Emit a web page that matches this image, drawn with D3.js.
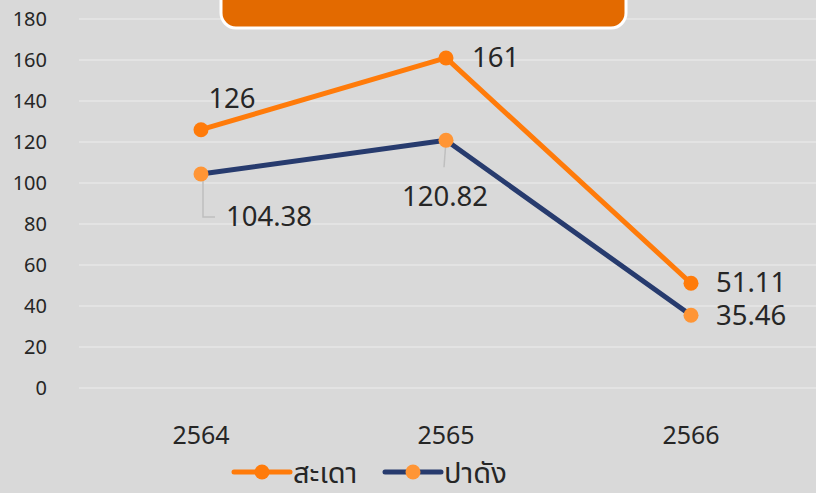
<!DOCTYPE html>
<html>
<head>
<meta charset="utf-8">
<script src="https://cdn.jsdelivr.net/npm/d3@7"></script>
<style>
  html, body { margin: 0; padding: 0; background: #d9d9d9; }
  svg { display: block; }
  text { font-family: "Noto Sans", "Noto Sans Thai", "Open Sans", sans-serif; fill: #262626; }
</style>
</head>
<body>
<svg id="chart" width="816" height="493"></svg>
<script>
// data
const years = ["2564", "2565", "2566"];
const sadaoValues = [126, 161, 51.11];
const padangValues = [104.38, 120.82, 35.46];
const seriesNames = ["สะเดา", "ปาดัง"];
const yTicks = [0, 20, 40, 60, 80, 100, 120, 140, 160, 180];

const svg = d3.select("#chart");
const W = 816, H = 493;

svg.append("rect").attr("width", W).attr("height", H).attr("fill", "#d9d9d9");

// scales
const x = d3.scalePoint().domain(years).range([78.5, 813.5]).padding(0.5);
const y = d3.scaleLinear().domain([0, 180]).range([388, 19]);

// gridlines
svg.append("g")
  .selectAll("line")
  .data(yTicks)
  .join("line")
    .attr("x1", 79)
    .attr("x2", W)
    .attr("y1", d => y(d))
    .attr("y2", d => y(d))
    .attr("stroke", "#e6e6e6")
    .attr("stroke-width", 1.5);

// y axis labels
svg.append("g")
  .selectAll("text")
  .data(yTicks)
  .join("text")
    .attr("x", 47)
    .attr("y", d => y(d))
    .attr("dy", "0.35em")
    .attr("text-anchor", "end")
    .attr("font-size", "20px")
    .text(d => d);

// x axis labels
svg.append("g")
  .selectAll("text")
  .data(years)
  .join("text")
    .attr("x", d => x(d))
    .attr("y", 444)
    .attr("text-anchor", "middle")
    .attr("font-size", "25px")
    .text(d => d);

const series = [
  {name: seriesNames[0], values: sadaoValues, line: "#ff7b0a", dot: "#ff7b0a"},
  {name: seriesNames[1], values: padangValues, line: "#273b6e", dot: "#ff9535"}
];

const lineGen = d3.line()
  .x((d, i) => x(years[i]))
  .y(d => y(d));

// leader lines for two labels
const leaders = svg.append("g").attr("stroke", "#bfbfbf").attr("stroke-width", 1.5).attr("fill", "none");
leaders.append("path")
  .attr("d", `M${x(years[0]) + 2},${y(padangValues[0])} L${x(years[0]) + 2},${y(padangValues[0]) + 43} L${x(years[0]) + 14},${y(padangValues[0]) + 43}`);
leaders.append("path")
  .attr("d", `M${x(years[1])},${y(padangValues[1])} L${x(years[1]) - 2},${y(padangValues[1]) + 27}`);

series.slice().reverse().forEach(s => {
  svg.append("path")
    .datum(s.values)
    .attr("fill", "none")
    .attr("stroke", s.line)
    .attr("stroke-width", 5)
    .attr("stroke-linejoin", "round")
    .attr("d", lineGen);
});
series.forEach(s => {
  svg.append("g")
    .selectAll("circle")
    .data(s.values)
    .join("circle")
      .attr("cx", (d, i) => x(years[i]))
      .attr("cy", d => y(d))
      .attr("r", 7.5)
      .attr("fill", s.dot);
});

// data labels: [dx, dy, anchor] relative to each point
const labelOffsets = [
  [[31, -22, "middle"], [26, 9, "start"], [25, 9, "start"]],
  [[25, 52, "start"], [-1, 66, "middle"], [25, 10, "start"]]
];
series.forEach((s, si) => {
  svg.append("g")
    .selectAll("text")
    .data(s.values)
    .join("text")
      .attr("x", (d, i) => x(years[i]) + labelOffsets[si][i][0])
      .attr("y", (d, i) => y(d) + labelOffsets[si][i][1])
      .attr("text-anchor", (d, i) => labelOffsets[si][i][2])
      .attr("font-size", "27.5px")
      .text(d => d);
});

// title box (cut off at top)
svg.append("rect")
  .attr("x", 221)
  .attr("y", -40)
  .attr("width", 405)
  .attr("height", 68)
  .attr("rx", 15)
  .attr("fill", "#e36a00")
  .attr("stroke", "#ffffff")
  .attr("stroke-width", 3);

// legend
const legendItems = [
  {name: seriesNames[0], line: series[0].line, dot: series[0].dot, x: 234},
  {name: seriesNames[1], line: series[1].line, dot: series[1].dot, x: 385}
];
const lg = svg.append("g").selectAll("g").data(legendItems).join("g")
  .attr("transform", d => `translate(${d.x},472)`);
lg.append("line")
  .attr("x1", 0).attr("x2", 56)
  .attr("stroke", d => d.line).attr("stroke-width", 5).attr("stroke-linecap", "round");
lg.append("circle")
  .attr("cx", 28).attr("r", 7.5).attr("fill", d => d.dot);
lg.append("text")
  .attr("x", 59).attr("y", 1).attr("dy", "0.35em")
  .attr("font-size", "29px")
  .text(d => d.name);
</script>
</body>
</html>
